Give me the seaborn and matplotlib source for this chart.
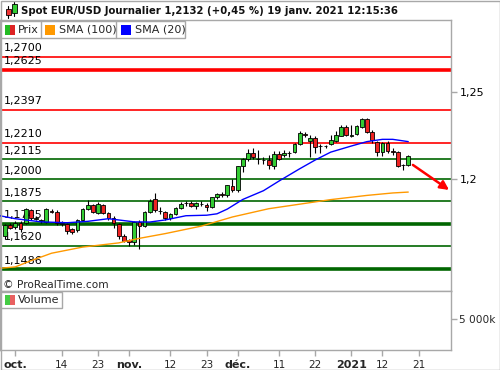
import numpy as np
import pandas as pd
import matplotlib
matplotlib.use("Agg")
import matplotlib.pyplot as plt
from matplotlib.patches import Rectangle
import seaborn as sns

# ---------------- data ----------------
opens = [1.1676, 1.1739, 1.1726, 1.1752, 1.1751, 1.1822, 1.1772, 1.1760, 1.1755, 1.1818,
         1.1815, 1.1746, 1.1743, 1.1715, 1.1712, 1.1765, 1.1830, 1.1853, 1.1810, 1.1853,
         1.1806, 1.1781, 1.1743, 1.1676, 1.1652, 1.1641, 1.1755, 1.1733, 1.1815, 1.1888,
         1.1820, 1.1815, 1.1777, 1.1800, 1.1838, 1.1862, 1.1863, 1.1848, 1.1860, 1.1853,
         1.1842, 1.1897, 1.1914, 1.1908, 1.1962, 1.1937, 1.2074, 1.2116, 1.2148, 1.2115,
         1.2110, 1.2110, 1.2078, 1.2143, 1.2136, 1.2150, 1.2154, 1.2200, 1.2257, 1.2219,
         1.2234, 1.2188, 1.2190, 1.2200, 1.2220, 1.2249, 1.2300, 1.2245, 1.2257, 1.2300,
         1.2344, 1.2268, 1.2215, 1.2158, 1.2210, 1.2162, 1.2154, 1.2080, 1.2082]
highs = [1.1745, 1.1748, 1.1762, 1.1760, 1.1835, 1.1830, 1.1790, 1.1775, 1.1834, 1.1830,
         1.1822, 1.1760, 1.1750, 1.1720, 1.1775, 1.1835, 1.1880, 1.1860, 1.1870, 1.1860,
         1.1815, 1.1790, 1.1752, 1.1685, 1.1660, 1.1760, 1.1770, 1.1820, 1.1890, 1.1920,
         1.1840, 1.1820, 1.1810, 1.1840, 1.1870, 1.1875, 1.1875, 1.1870, 1.1875, 1.1862,
         1.1900, 1.1920, 1.1925, 1.1970, 1.2003, 1.2078, 1.2122, 1.2175, 1.2177, 1.2165,
         1.2125, 1.2140, 1.2160, 1.2160, 1.2165, 1.2160, 1.2210, 1.2273, 1.2268, 1.2250,
         1.2245, 1.2200, 1.2198, 1.2250, 1.2275, 1.2310, 1.2310, 1.2310, 1.2310, 1.2350,
         1.2350, 1.2280, 1.2220, 1.2215, 1.2220, 1.2180, 1.2160, 1.2090, 1.2140]
lows = [1.1662, 1.1716, 1.1718, 1.1700, 1.1745, 1.1770, 1.1765, 1.1750, 1.1750, 1.1805,
        1.1740, 1.1733, 1.1690, 1.1690, 1.1700, 1.1760, 1.1825, 1.1805, 1.1800, 1.1800,
        1.1770, 1.1720, 1.1660, 1.1640, 1.1620, 1.1625, 1.1602, 1.1725, 1.1810, 1.1815,
        1.1800, 1.1770, 1.1765, 1.1795, 1.1830, 1.1850, 1.1840, 1.1830, 1.1845, 1.1820,
        1.1838, 1.1890, 1.1900, 1.1900, 1.1925, 1.1925, 1.2040, 1.2105, 1.2115, 1.2090,
        1.2090, 1.2060, 1.2060, 1.2110, 1.2125, 1.2130, 1.2150, 1.2195, 1.2240, 1.2130,
        1.2150, 1.2150, 1.2180, 1.2195, 1.2215, 1.2245, 1.2245, 1.2240, 1.2250, 1.2295,
        1.2265, 1.2210, 1.2132, 1.2135, 1.2150, 1.2140, 1.2070, 1.2055, 1.2075]
closes = [1.1739, 1.1724, 1.1749, 1.1715, 1.1828, 1.1777, 1.1778, 1.1765, 1.1830, 1.1815,
          1.1748, 1.1748, 1.1705, 1.1702, 1.1768, 1.1830, 1.1853, 1.1812, 1.1857, 1.1807,
          1.1777, 1.1749, 1.1676, 1.1645, 1.1641, 1.1755, 1.1735, 1.1815, 1.1876, 1.1825,
          1.1818, 1.1777, 1.1800, 1.1834, 1.1857, 1.1864, 1.1848, 1.1863, 1.1858, 1.1842,
          1.1897, 1.1914, 1.1910, 1.1965, 1.1937, 1.2076, 1.2118, 1.2148, 1.2125, 1.2113,
          1.2112, 1.2082, 1.2143, 1.2115, 1.2148, 1.2152, 1.2200, 1.2263, 1.2255, 1.2234,
          1.2186, 1.2190, 1.2188, 1.2224, 1.2253, 1.2300, 1.2253, 1.2255, 1.2306, 1.2344,
          1.2272, 1.2224, 1.2158, 1.2210, 1.2162, 1.2153, 1.2076, 1.2082, 1.2132]

# SMA values (bar index, value)
sma20_idx = [-1, 2, 7, 12, 16, 20, 25, 28, 31, 35, 39, 41, 43, 46, 50, 53, 57, 60, 63, 67, 70, 73, 75, 78]
sma20_val = [1.1792, 1.1775, 1.1757, 1.1752, 1.1760, 1.1775, 1.1757, 1.1756, 1.1768, 1.1792,
             1.1795, 1.1803, 1.1830, 1.1885, 1.1935, 1.1990, 1.2060, 1.2110, 1.2155, 1.2190,
             1.2215, 1.2228, 1.2228, 1.2215]
sma100_idx = [-1, 2, 5, 9, 15, 22, 26, 31, 38, 44, 51, 57, 63, 70, 75, 78]
sma100_val = [1.1492, 1.1500, 1.1535, 1.1578, 1.1613, 1.1637, 1.1663, 1.1690, 1.1733, 1.1785,
              1.1832, 1.1858, 1.1884, 1.1908, 1.1922, 1.1927]

red_levels = [1.2700, 1.2625, 1.2397, 1.2210]
red_widths = [1.2, 2.6, 1.2, 1.2]
green_levels = [1.2115, 1.2000, 1.1875, 1.1745, 1.1620, 1.1486]
green_widths = [1.2, 1.2, 1.2, 2.6, 1.2, 2.6]

tick_dates = ["2020-10-01", "2020-10-14", "2020-10-23", "2020-11-02", "2020-11-12", "2020-11-23",
              "2020-12-01", "2020-12-11", "2020-12-22", "2021-01-04", "2021-01-12", "2021-01-21"]
tick_labels = ["oct.", "14", "23", "nov.", "12", "23", "déc.", "11", "22", "2021", "12", "21"]
bold_labels = {"oct.", "nov.", "déc.", "2021"}

# trading calendar (weekdays, minus Christmas and New Year)
cal = pd.bdate_range("2020-09-29", "2021-02-10")
cal = cal[~cal.isin(pd.to_datetime(["2020-12-25", "2021-01-01"]))]
pos = {d: i for i, d in enumerate(cal)}
tick_pos = [pos[pd.Timestamp(d)] for d in tick_dates]

# ---------------- figure ----------------
sns.set_theme(style="white")
plt.rcParams['font.family'] = ['DejaVu Sans']
W, H = 500, 370
fig = plt.figure(figsize=(W / 100, H / 100), dpi=100)
fig.patch.set_facecolor("white")

def fx(x):
    return x / W

def fy(y):
    return 1 - y / H

GRAY = "#a8a8a8"

ax = fig.add_axes([0, fy(291), fx(451), (291 - 20) / H])
ax.set_facecolor("white")
ax.set_xlim(-0.967, 86.27)
ax.set_ylim(1.13624, 1.29092)

# levels
for lv, lw in zip(red_levels, red_widths):
    ax.axhline(lv, color="#ff0000", lw=lw, zorder=1)
for lv, lw in zip(green_levels, green_widths):
    ax.axhline(lv, color="#006600", lw=lw, zorder=1)
for lv in red_levels + green_levels:
    ax.annotate(f"{lv:.4f}".replace(".", ","), xy=(0, lv), xycoords=("axes fraction", "data"),
                xytext=(3, 2.5), textcoords="offset points", fontsize=8, color="black",
                ha="left", va="bottom", zorder=1.5)

# candles
n = len(closes)
idx = np.arange(n)
o = np.array(opens); c = np.array(closes); h = np.array(highs); l = np.array(lows)
ax.vlines(idx, l, h, color="black", lw=0.8, zorder=3)
up = c >= o
cols = np.where(up, "#33cc33", "#ee2222")
bottoms = np.minimum(o, c)
heights = np.abs(c - o)
ax.bar(idx, heights, bottom=bottoms, width=0.72, color=cols, edgecolor="black",
       linewidth=0.6, zorder=3.5)

# SMAs
df20 = pd.DataFrame({"i": sma20_idx, "v": sma20_val})
df100 = pd.DataFrame({"i": sma100_idx, "v": sma100_val})
sns.lineplot(data=df100, x="i", y="v", ax=ax, color="#ff9900", lw=1.0, zorder=4)
sns.lineplot(data=df20, x="i", y="v", ax=ax, color="#0000ff", lw=1.0, zorder=4)

# arrow
ax.annotate("", xy=(85.9, 1.1939), xytext=(78.9, 1.2082),
            arrowprops=dict(arrowstyle="-|>", color="#ff0000", lw=1.8, mutation_scale=13,
                            shrinkA=0, shrinkB=0), zorder=5)

ax.yaxis.tick_right()
ax.set_yticks([1.2, 1.25])
ax.set_yticklabels(["1,2", "1,25"])
ax.tick_params(axis="y", right=True, length=4, width=1, color=GRAY, labelsize=8, pad=2,
               labelcolor="black")
ax.set_xticks([])
ax.set_xlabel(""); ax.set_ylabel("")
for s in ax.spines.values():
    s.set_color(GRAY); s.set_linewidth(1)

# volume panel
vax = fig.add_axes([0, fy(350), fx(451), 59 / H])
vax.set_facecolor("white")
vax.set_xlim(-0.967, 86.27)
vax.set_ylim(0, 9524)
vax.yaxis.tick_right()
vax.set_yticks([5000])
vax.set_yticklabels(["5 000k"])
vax.set_xticks(tick_pos)
vax.set_xticklabels(tick_labels)
vax.tick_params(axis="y", right=True, length=4, width=1, color=GRAY, labelsize=7.6, pad=2)
vax.tick_params(axis="x", bottom=True, length=4, width=1, color=GRAY, labelsize=7.5, pad=3)
for t in vax.get_xticklabels():
    if t.get_text() in bold_labels:
        t.set_fontweight("bold")
        t.set_fontsize(8)
for s in vax.spines.values():
    s.set_color(GRAY); s.set_linewidth(1)

# ---------------- header / decorations ----------------
def rect(x0, y0, x1, y1, fc="none", ec="none", lw=1.0, z=10):
    fig.patches.append(Rectangle((fx(x0), fy(y1)), fx(x1) - fx(x0), fy(y0) - fy(y1),
                                 transform=fig.transFigure, facecolor=fc, edgecolor=ec,
                                 linewidth=lw, zorder=z))

def ftext(x, y, s, **kw):
    kw.setdefault("fontsize", 8)
    fig.text(fx(x), fy(y), s, ha="left", va="center", zorder=30, **kw)

# title icon
fig.lines.append(plt.Line2D([fx(8), fx(8)], [fy(6), fy(18)], transform=fig.transFigure, color="black", lw=0.8, zorder=11))
rect(5.5, 9, 10.5, 15, fc="#ee3333", ec="black", lw=0.6, z=12)
fig.lines.append(plt.Line2D([fx(14), fx(14)], [fy(2), fy(16)], transform=fig.transFigure, color="black", lw=0.8, zorder=11))
rect(11.5, 4, 16.5, 13, fc="#33cc33", ec="black", lw=0.6, z=12)

ftext(21, 11, "Spot EUR/USD Journalier 1,2132 (+0,45 %) 19 janv. 2021 12:15:36",
      fontsize=7.3, fontweight="bold", color="#111111")

# legend row
rect(0, 21, 185, 38, fc="white", ec=GRAY, lw=1)
for xs in [40.5, 116]:
    fig.lines.append(plt.Line2D([fx(xs), fx(xs)], [fy(21), fy(38)], transform=fig.transFigure,
                                color=GRAY, lw=1, zorder=11))
rect(5, 25, 10, 35, fc="#22bb22", z=12)
rect(10, 25, 15, 35, fc="#dd2222", z=12)
ftext(18, 30, "Prix")
rect(45, 25, 55, 35, fc="#ff9900", z=12)
ftext(59, 30, "SMA (100)")
rect(121, 25, 131, 35, fc="#0000ff", z=12)
ftext(135, 30, "SMA (20)")

ftext(3, 285, "© ProRealTime.com", fontsize=7.6)

# volume legend
rect(0, 292, 62, 308, fc="white", ec=GRAY, lw=1)
rect(5, 295, 10, 305, fc="#44cc44", z=12)
rect(10, 295, 15, 305, fc="#e86060", z=12)
ftext(18, 300, "Volume")

# outer frame
rect(0.5, 0.5, 499.5, 369.5, ec=GRAY, lw=1, z=20)

fig.savefig("out.png", dpi=100, facecolor="white")
